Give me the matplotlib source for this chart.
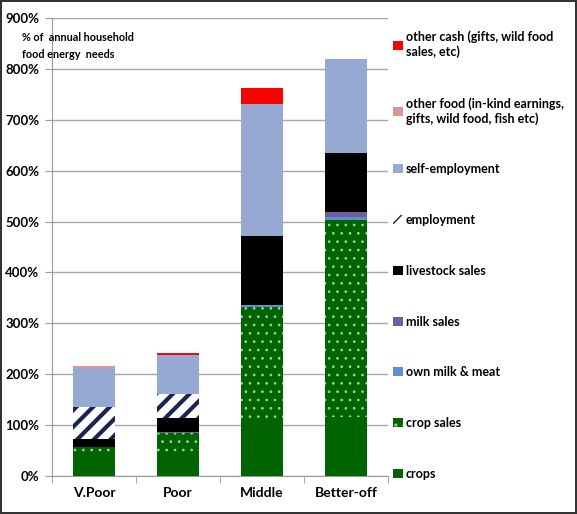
import matplotlib
matplotlib.use("Agg")
import matplotlib.pyplot as plt
import numpy as np

plt.rcParams['font.family'] = ['Lato', 'DejaVu Sans']

groups = ["V.Poor", "Poor", "Middle", "Better-off"]

# % of annual household food energy needs, bottom to top
crops = [43, 45, 105, 115]
crop_sales = [14, 40, 228, 388]
own_milk_meat = [0, 0, 2, 6]
milk_sales = [0, 2, 0, 10]
livestock_sales = [15, 27, 137, 116]
employment = [63, 48, 0, 0]
self_employment = [78, 75, 259, 184]
other_food = [3, 0, 0, 0]
other_cash = [0, 5, 31, 0]

series = [
    ("crops", crops, dict(color="#006400"), 1.0),
    ("crop sales", crop_sales, dict(color="#006400", hatch="..", edgecolor="#9ED69E"), 0.7),
    ("own milk & meat", own_milk_meat, dict(color="#5B8ED6"), 1.0),
    ("milk sales", milk_sales, dict(color="#6F5E99"), 1.0),
    ("livestock sales", livestock_sales, dict(color="#000000"), 1.0),
    ("employment", employment, dict(color="white", hatch="//", edgecolor="#1B2350"), 3.0),
    ("self-employment", self_employment, dict(color="#95A9D2"), 1.0),
    ("other food (in-kind earnings,\ngifts, wild food, fish etc)", other_food, dict(color="#D99694"), 1.0),
    ("other cash (gifts, wild food\nsales, etc)", other_cash, dict(color="#FF0000"), 1.0),
]

fig = plt.figure(figsize=(5.77, 5.14), dpi=100)
fig.patch.set_edgecolor("#333333")
fig.patch.set_linewidth(1.5)
ax = fig.add_axes([0.090, 0.074, 0.583, 0.891])

x = np.arange(len(groups))
bottom = np.zeros(len(groups))
handles = []
for label, vals, style, hlw in series:
    vals = np.array(vals, dtype=float)
    with plt.rc_context({'hatch.linewidth': hlw}):
        b = ax.bar(x, vals, width=0.5, bottom=bottom, linewidth=0, label=label, zorder=3, **style)
    handles.append(b)
    bottom += vals

ax.set_xlim(-0.5, 3.5)
ax.set_ylim(0, 900)
ax.set_yticks(np.arange(0, 901, 100))
ax.set_yticklabels([f"{v}%" for v in range(0, 901, 100)], fontsize=9.5, fontweight="bold")
ax.set_xticks(x)
ax.set_xticklabels(groups, fontsize=10, fontweight="bold")
ax.set_xticks([-0.5, 0.5, 1.5, 2.5, 3.5], minor=True)
ax.tick_params(axis="x", which="major", length=0, pad=8)
ax.tick_params(axis="x", which="minor", length=5, color="#999999")
ax.tick_params(axis="y", length=5, color="#999999", pad=4)
ax.grid(axis="y", color="#A6A6A6", linewidth=1, zorder=0)
for s in ["top", "right"]:
    ax.spines[s].set_visible(False)
for s in ["left", "bottom"]:
    ax.spines[s].set_color("#999999")

fig.text(0.038, 0.938, "% of  annual household\nfood energy  needs", fontsize=7.8,
         fontweight="bold", va="top", ha="left", linespacing=1.7)

leg = fig.legend(handles[::-1], [s[0] for s in series][::-1], loc="upper left",
                 bbox_to_anchor=(0.662, 0.962), frameon=False,
                 handlelength=0.75, handleheight=0.75, handletextpad=0.25,
                 labelspacing=3.1, prop={"weight": "bold", "size": 9})

fig.savefig("out.png", dpi=100)
